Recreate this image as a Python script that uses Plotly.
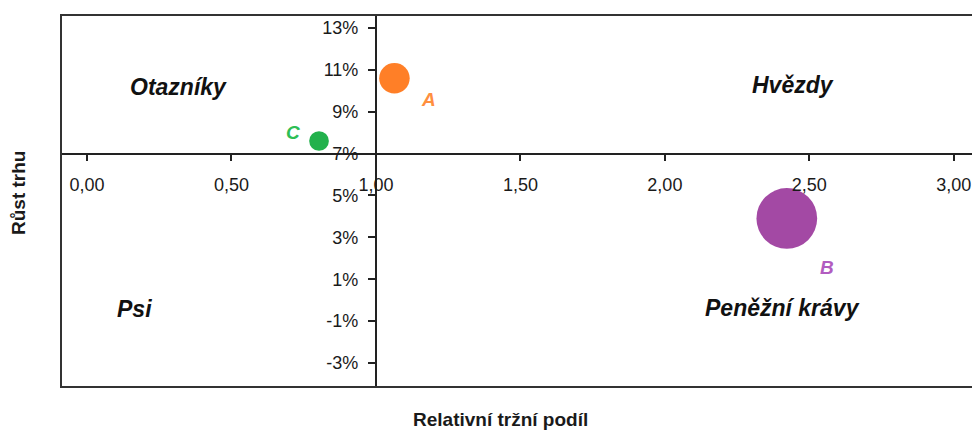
import plotly.graph_objects as go

# BCG portfolio matrix: relative market share vs. market growth
units = ["A", "B", "C"]
relative_share = [1.064, 2.422, 0.803]      # relative market share
market_growth = [10.6, 3.9, 7.6]            # market growth, %
revenue = [2.4, 9.5, 1.0]                   # bubble size (relative revenue)
bubble_colors = ["#FF7F27", "#A349A4", "#22B14C"]
label_colors = ["#FF8F3F", "#B25CC0", "#2DBE55"]

quadrants = ["Otazníky", "Hvězdy", "Psi", "Peněžní krávy"]
quadrant_x = [0.315, 2.442, 0.166, 2.407]
quadrant_y = [10.2, 10.3, -0.42, -0.36]

growth_ticks = [-3, -1, 1, 3, 5, 7, 9, 11, 13]
growth_tick_text = ["-3%", "-1%", "1%", "3%", "5%", "7%", "9%", "11%", "13%"]

x_title = "Relativní tržní podíl"
y_title = "Růst trhu"

# axis ranges and the crossing point of the two axes
x_range = [-0.09, 3.063]
y_range = [-4.15, 13.62]
x_cross = 1.0     # y axis sits at this relative share
y_cross = 7.0     # x axis sits at this growth rate

FONT = "Liberation Sans, Arial, sans-serif"
INK = "#1a1a1a"

fig = go.Figure()

fig.add_trace(go.Scatter(
    x=relative_share,
    y=market_growth,
    mode="markers",
    marker=dict(
        size=revenue,
        sizemode="area",
        sizeref=1 / 194,
        color=bubble_colors,
        opacity=1,
        line=dict(width=0),
    ),
    hoverinfo="skip",
    showlegend=False,
))

# point labels next to each bubble
label_shift = {"A": (34, -21), "B": (40, -49), "C": (-26, 9)}
annotations = []
for name, xv, yv, col in zip(units, relative_share, market_growth, label_colors):
    dx, dy = label_shift[name]
    annotations.append(dict(
        x=xv, y=yv, xref="x", yref="y", text=f"<b><i>{name}</i></b>",
        showarrow=False, xshift=dx, yshift=dy,
        font=dict(family=FONT, size=19, color=col),
    ))

# quadrant names
for name, qx, qy in zip(quadrants, quadrant_x, quadrant_y):
    annotations.append(dict(
        x=qx, y=qy, xref="x", yref="y", text=f"<b><i>{name}</i></b>",
        showarrow=False, font=dict(family=FONT, size=23, color="#111111"),
    ))

# axis titles
annotations.append(dict(
    x=0.4824, y=-0.0887, xref="paper", yref="paper", text=f"<b>{x_title}</b>",
    showarrow=False, font=dict(family=FONT, size=19, color=INK),
    xanchor="center", yanchor="middle",
))
annotations.append(dict(
    x=-0.0472, y=0.5215, xref="paper", yref="paper", text=f"<b>{y_title}</b>",
    showarrow=False, textangle=-90, font=dict(family=FONT, size=19, color=INK),
    xanchor="center", yanchor="middle",
))

x_pos = (y_cross - y_range[0]) / (y_range[1] - y_range[0])
y_pos = (x_cross - x_range[0]) / (x_range[1] - x_range[0])

fig.update_layout(
    width=972,
    height=431,
    margin=dict(l=61, r=0, t=15, b=44, autoexpand=False),
    paper_bgcolor="white",
    plot_bgcolor="white",
    separators=", ",
    font=dict(family=FONT, color=INK),
    annotations=annotations,
    xaxis=dict(
        range=x_range,
        anchor="free",
        position=x_pos,
        tick0=0,
        dtick=0.5,
        tickformat=".2f",
        ticks="outside",
        ticklen=6,
        tickwidth=2,
        tickcolor="#222222",
        showline=True,
        linecolor="#222222",
        linewidth=2,
        showgrid=False,
        zeroline=False,
        ticklabelstandoff=9,
        tickfont=dict(family=FONT, size=18, color=INK),
    ),
    yaxis=dict(
        range=y_range,
        anchor="free",
        position=y_pos,
        tickmode="array",
        tickvals=growth_ticks,
        ticktext=growth_tick_text,
        ticks="outside",
        ticklen=7,
        tickwidth=2,
        tickcolor="#222222",
        showline=True,
        linecolor="#222222",
        linewidth=2,
        showgrid=False,
        zeroline=False,
        ticklabelstandoff=6,
        tickfont=dict(family=FONT, size=18, color=INK),
    ),
    shapes=[dict(
        type="rect", xref="paper", yref="paper",
        x0=0, x1=1.03, y0=0, y1=1,
        line=dict(color="#333333", width=2),
        fillcolor="rgba(0,0,0,0)",
        layer="above",
    )],
)

fig.write_html("out.html")
